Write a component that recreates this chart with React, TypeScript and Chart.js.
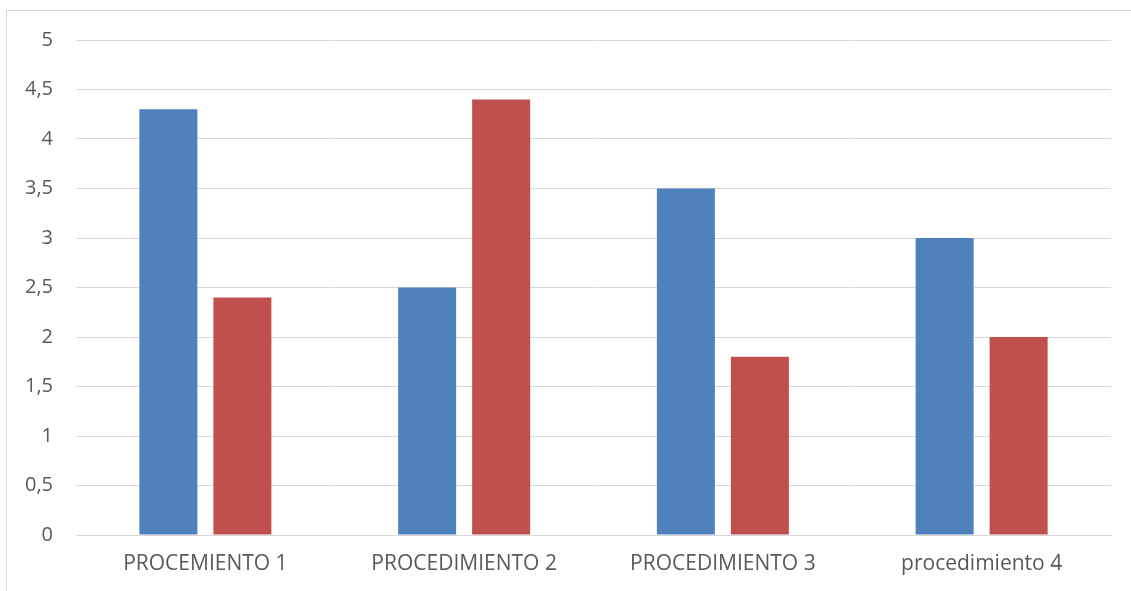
import React, { useEffect, useRef } from "react";
import { Chart, registerables } from "chart.js";

Chart.register(...registerables);

const categories = ["PROCEMIENTO 1", "PROCEDIMIENTO 2", "PROCEDIMIENTO 3", "procedimiento 4"];
const serie1 = [4.3, 2.5, 3.5, 3.0];
const serie2 = [2.4, 4.4, 1.8, 2.0];

export default function App() {
  const ref = useRef<HTMLCanvasElement | null>(null);

  useEffect(() => {
    if (!ref.current) return;
    const chart = new Chart(ref.current, {
      type: "bar",
      data: {
        labels: categories,
        datasets: [
          { label: "Serie 1", data: serie1, backgroundColor: "#4F81BD", categoryPercentage: 0.572, barPercentage: 0.784 },
          { label: "Serie 2", data: serie2, backgroundColor: "#C0504D", categoryPercentage: 0.572, barPercentage: 0.784 },
        ],
      },
      options: {
        responsive: false,
        animation: false,
        layout: { padding: { top: 40, right: 20, left: 0, bottom: 0 } },
        plugins: { legend: { display: false }, tooltip: { enabled: false } },
        scales: {
          x: {
            grid: { display: false, drawTicks: false },
            border: { display: true, color: "#d9d9d9", width: 1 },
            ticks: { color: "#595959", font: { family: "Open Sans", size: 21 }, padding: 16, maxRotation: 0 },
            afterFit: (s: any) => { s.height = 56; },
          },
          y: {
            min: 0,
            max: 5,
            ticks: {
              stepSize: 0.5,
              color: "#595959",
              font: { family: "Open Sans", size: 20 },
              padding: 23,
              callback: (v: any) => String(v).replace(".", ","),
            },
            grid: { color: "#d9d9d9", lineWidth: 1, drawTicks: false },
            border: { display: false },
            afterFit: (s: any) => { s.width = 76; },
          },
        },
      },
    });
    return () => chart.destroy();
  }, []);

  return (
    <div style={{ position: "fixed", left: 0, top: 0, width: 1131, height: 591, background: "#fff" }}>
      <div style={{ position: "absolute", left: 6, top: 10, right: 0, bottom: 0, borderLeft: "1px solid #d9d9d9", borderTop: "1px solid #d9d9d9" }} />
      <canvas ref={ref} width={1131} height={591} style={{ position: "absolute", left: 0, top: 0 }} />
    </div>
  );
}
